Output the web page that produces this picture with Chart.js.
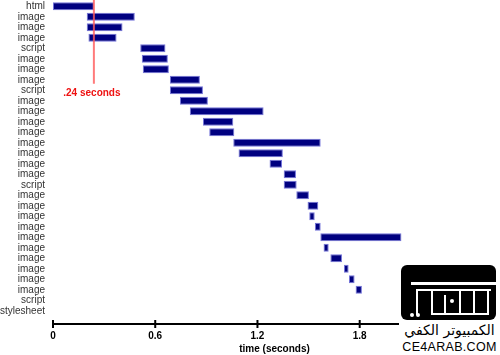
<!DOCTYPE html>
<html><head><meta charset="utf-8">
<script src="https://cdn.jsdelivr.net/npm/chart.js@4"></script>
<style>
html,body{margin:0;padding:0;background:#fff;}
#wrap{position:relative;width:500px;height:355px;overflow:hidden;}
canvas{display:block;}
#logo{position:absolute;left:399px;top:262px;width:101px;height:93px;background:#fff;}
#box{position:absolute;left:2px;top:3px;width:95px;height:55px;background:#000;border-radius:6px;}
.w{position:absolute;background:#fff;}
.dot{position:absolute;background:#fff;border-radius:50%;width:4px;height:4px;}
#ar{position:absolute;left:0;top:60px;width:101px;text-align:center;font-family:"DejaVu Sans",sans-serif;font-size:14px;line-height:16px;color:#000;white-space:nowrap;}
#en{position:absolute;left:0;top:79px;width:101px;text-align:center;font-family:"Liberation Sans",Arial,sans-serif;font-size:12.5px;line-height:13px;color:#000;letter-spacing:0.3px;white-space:nowrap;}
</style></head><body>
<div id="wrap">
<canvas id="c" width="500" height="355"></canvas>
<div id="logo">
  <div id="box">
    <div class="w" style="left:10px;top:17px;width:85px;height:3px;"></div>
    <div class="w" style="left:15px;top:24px;width:75px;height:2px;"></div>
    <div class="w" style="left:15px;top:24px;width:2px;height:26px;"></div>
    <div class="w" style="left:30px;top:24px;width:2px;height:26px;"></div>
    <div class="w" style="left:43px;top:30px;width:2px;height:20px;"></div>
    <div class="w" style="left:58px;top:24px;width:2px;height:26px;"></div>
    <div class="w" style="left:72px;top:24px;width:2px;height:26px;"></div>
    <div class="w" style="left:86px;top:24px;width:2px;height:26px;"></div>
    <div class="w" style="left:30px;top:48px;width:58px;height:2px;"></div>
    <div class="dot" style="left:49px;top:34px;"></div>
    <div class="dot" style="left:9px;top:48px;"></div>
    <div class="dot" style="left:15px;top:48px;"></div>
  </div>
  <div id="ar">الكمبيوتر الكفي</div>
  <div id="en">CE4ARAB.COM</div>
</div>
</div>
<script>
const categories = ['html','image','image','image','script','image','image','image','script','image',
  'image','image','image','image','image','image','image','script','image','image',
  'image','image','image','image','image','image','image','image','script','stylesheet'];
const startTimes = [0,0.198,0.198,0.208,0.512,0.521,0.527,0.686,0.686,0.745,
  0.803,0.88,0.917,1.058,1.089,1.271,1.354,1.354,1.428,1.494,
  1.504,1.537,1.569,1.588,1.628,1.708,1.737,1.776,null,null];
const endTimes = [0.24,0.48,0.408,0.373,0.66,0.674,0.68,0.862,0.88,0.909,
  1.236,1.058,1.064,1.571,1.349,1.344,1.426,1.43,1.502,1.557,
  1.536,1.571,2.045,1.618,1.696,1.735,1.77,1.813,null,null];
const xTicks = [0,0.6,1.2,1.8,2.4];
const xMax = 2.6;
const markerTime = 0.24;
const markerLabel = '.24 seconds';
const axisTitle = 'time (seconds)';

const FONT = '"Liberation Sans", Arial, sans-serif';

const overlay = {
  id:'overlay',
  afterDatasetsDraw(chart){
    const ctx = chart.ctx, xs = chart.scales.x, ys = chart.scales.y, ca = chart.chartArea;
    const px = xs.getPixelForValue(markerTime);
    ctx.save();
    ctx.strokeStyle = 'rgba(255,90,90,0.8)';
    ctx.lineWidth = 2;
    ctx.beginPath();
    ctx.moveTo(px, 0);
    ctx.lineTo(px, ys.getPixelForValue(7) + 4);
    ctx.stroke();
    ctx.fillStyle = '#ee1111';
    ctx.font = 'bold 10px ' + FONT;
    ctx.textAlign = 'center';
    ctx.textBaseline = 'middle';
    ctx.fillText(markerLabel, px - 2, ys.getPixelForValue(8) + 3);
    // x axis line with crossing ticks
    const ay = ca.bottom + 8;
    ctx.strokeStyle = '#000';
    ctx.lineWidth = 2;
    ctx.beginPath();
    ctx.moveTo(xs.getPixelForValue(0), ay);
    ctx.lineTo(ca.right, ay);
    ctx.stroke();
    xTicks.forEach(v => {
      const tx = xs.getPixelForValue(v);
      ctx.beginPath();
      ctx.moveTo(tx, ay - 4);
      ctx.lineTo(tx, ay + 4);
      ctx.stroke();
    });
    ctx.restore();
  }
};

new Chart(document.getElementById('c'), {
  type:'bar',
  data:{
    labels:categories,
    datasets:[{
      data:categories.map((c,i)=> startTimes[i]==null ? null : [startTimes[i], endTimes[i]]),
      backgroundColor:'#000080',
      borderColor:'rgba(90,90,210,0.85)',
      borderWidth:1,
      borderSkipped:false,
      categoryPercentage:1,
      barPercentage:0.78
    }]
  },
  options:{
    indexAxis:'y',
    responsive:false,
    animation:false,
    devicePixelRatio:1,
    layout:{padding:{top:1,left:0,right:4,bottom:0}},
    plugins:{legend:{display:false},tooltip:{enabled:false}},
    scales:{
      x:{
        type:'linear', min:0, max:xMax, position:'bottom',
        grid:{display:false, drawTicks:false},
        border:{display:false},
        afterBuildTicks:axis=>{ axis.ticks = xTicks.map(v=>({value:v})); },
        afterFit:axis=>{ axis.height = 39; axis.paddingLeft = 0; axis.paddingRight = 0; },
        ticks:{padding:14, color:'#000', maxRotation:0, autoSkip:false,
          font:{family:FONT,size:10,weight:'bold'},
          callback:v=>String(v)},
        title:{display:true,text:axisTitle,color:'#000',
          font:{family:FONT,size:10,weight:'bold'},padding:{top:1,bottom:0}}
      },
      y:{
        type:'category',
        grid:{display:false, drawTicks:false},
        border:{display:false},
        afterFit:axis=>{ axis.width = 53; axis.paddingTop = 0; axis.paddingBottom = 0; },
        ticks:{padding:8,color:'#333',autoSkip:false,font:{family:FONT,size:10}}
      }
    }
  },
  plugins:[overlay]
});
</script>
</body></html>
